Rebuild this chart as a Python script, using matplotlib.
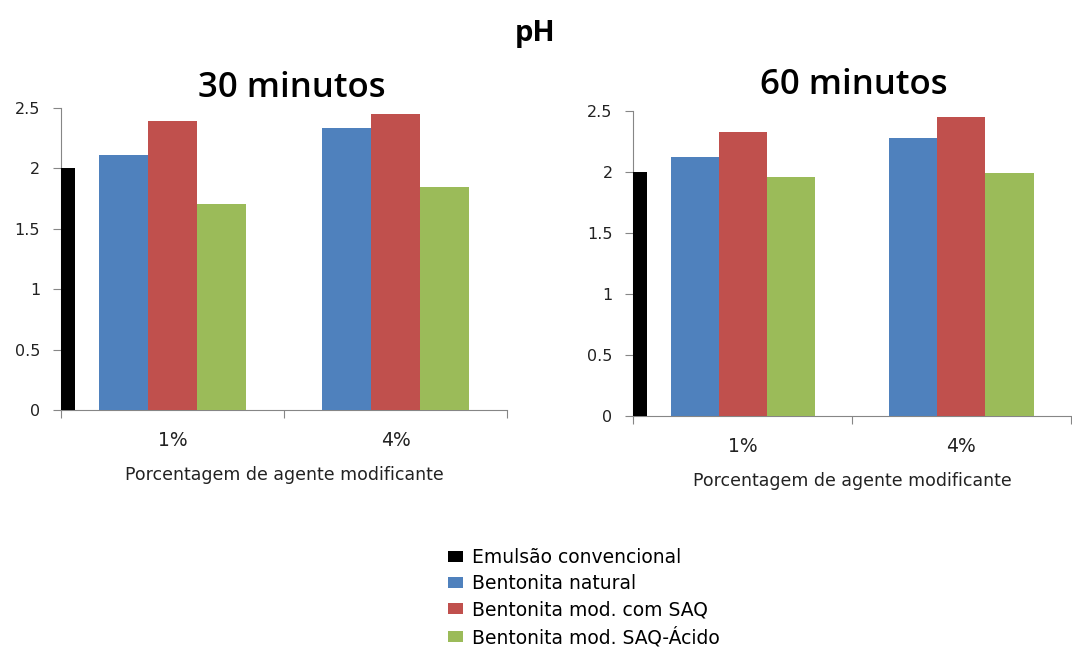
import matplotlib
matplotlib.use("Agg")
import matplotlib.pyplot as plt
from matplotlib.patches import Patch

categories = ["1%", "4%"]
series = ["Emulsão convencional", "Bentonita natural",
          "Bentonita mod. com SAQ", "Bentonita mod. SAQ-Ácido"]
colors = ["#000000", "#4F81BD", "#C0504D", "#9BBB59"]

# reference emulsion (single bar at the left edge of each panel)
ref_30 = 2.0
ref_60 = 2.0
# [1%, 4%] for each bentonite series
natural_30 = [2.11, 2.33]
saq_30 = [2.39, 2.45]
acido_30 = [1.70, 1.84]
natural_60 = [2.12, 2.28]
saq_60 = [2.33, 2.45]
acido_60 = [1.96, 1.99]

yticks = [0, 0.5, 1, 1.5, 2, 2.5]
ytick_labels = ["0", "0.5", "1", "1.5", "2", "2.5"]

W = 0.22
SPINE = "#868686"


def panel(ax, ref, groups, title, tpos, ty):
    ax.bar(-0.5, ref, width=0.063, align="edge", color=colors[0], zorder=3)
    for i, vals in enumerate(groups):
        xs = [c + (i - 1) * W for c in range(len(categories))]
        ax.bar(xs, vals, width=W, color=colors[i + 1], zorder=3)
    ax.set_xlim(-0.5, 1.5)
    ax.set_ylim(0, 2.5)
    ax.set_yticks(yticks)
    ax.set_yticklabels(ytick_labels, fontsize=11.5, color="#222222")
    ax.set_xticks([-0.5, 0.5, 1.5])
    ax.set_xticklabels([])
    ax.set_xticks([0, 1], minor=True)
    ax.set_xticklabels(categories, minor=True, fontsize=13.5, color="#222222")
    ax.tick_params(axis="x", which="minor", length=0, pad=15)
    ax.tick_params(axis="x", which="major", length=6, color=SPINE, direction="out")
    ax.tick_params(axis="y", length=6, color=SPINE, pad=9)
    for s in ["top", "right"]:
        ax.spines[s].set_visible(False)
    for s in ["left", "bottom"]:
        ax.spines[s].set_color(SPINE)
    ax.set_xlabel("Porcentagem de agente modificante", fontsize=12.5, labelpad=12,
                  color="#222222")
    ax.text(tpos, ty, title, transform=ax.transAxes, ha="center", va="center",
            fontsize=25, fontfamily="Open Sans", fontweight="semibold")


fig = plt.figure(figsize=(10.72, 6.51), dpi=100)
ax1 = fig.add_axes([0.0569, 0.3702, 0.4161, 0.4644])
ax2 = fig.add_axes([0.5908, 0.3610, 0.4080, 0.4685])

panel(ax1, ref_30, [natural_30, saq_30, acido_30], "30 minutos", 0.517, 1.065)
panel(ax2, ref_60, [natural_60, saq_60, acido_60], "60 minutos", 0.505, 1.085)

fig.text(0.499, 0.948, "pH", ha="center", va="center", fontsize=21,
         fontfamily="Open Sans", fontweight="bold")

handles = [Patch(facecolor=c, edgecolor="none") for c in colors]
fig.legend(handles, series, loc="lower left", bbox_to_anchor=(0.418, 0.006),
           bbox_transform=fig.transFigure, frameon=False, fontsize=13.5,
           handlelength=0.8, handleheight=0.55, handletextpad=0.45,
           labelspacing=0.38, borderpad=0, borderaxespad=0)

fig.savefig("out.png", dpi=100, facecolor="white")
